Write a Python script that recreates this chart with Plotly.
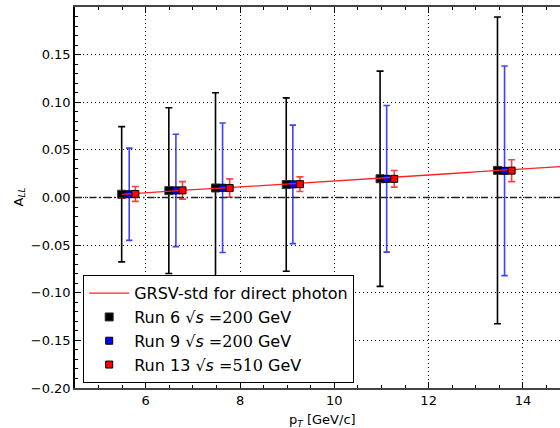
import plotly.graph_objects as go

# ---- data ----
run6_x = [5.49, 6.49, 7.48, 8.98, 10.97, 13.46]
run6_y = [0.0034, 0.0072, 0.0100, 0.0136, 0.0197, 0.0285]
run6_err = [0.071, 0.087, 0.100, 0.091, 0.113, 0.161]

run9_x = [5.65, 6.64, 7.63, 9.12, 11.11, 13.61]
run9_y = [0.0034, 0.0074, 0.0102, 0.0138, 0.0196, 0.0280]
run9_err = [0.0484, 0.059, 0.068, 0.0622, 0.077, 0.110]

run13_x = [5.78, 6.78, 7.78, 9.27, 11.27, 13.76]
run13_y = [0.0037, 0.0075, 0.0099, 0.0140, 0.0196, 0.0282]
run13_err = [0.0078, 0.0092, 0.0097, 0.0077, 0.0087, 0.0115]

grsv_x = [5.5, 6.0, 6.5, 7.0, 7.5, 8.0, 8.5, 9.0, 9.5, 10.0,
          10.5, 11.0, 11.5, 12.0, 12.5, 13.0, 13.5, 14.0, 14.5, 15.0]
grsv_y = [0.0032, 0.0050, 0.0068, 0.0082, 0.0095, 0.0110, 0.0125, 0.0142, 0.0158, 0.0175,
          0.0188, 0.0203, 0.0220, 0.0236, 0.0252, 0.0270, 0.0287, 0.0302, 0.0316, 0.0330]

x_ticks = [6, 8, 10, 12, 14]
y_ticks = [-0.20, -0.15, -0.10, -0.05, 0.00, 0.05, 0.10, 0.15]
y_tick_labels = ["−0.20", "−0.15", "−0.10", "−0.05", "0.00", "0.05", "0.10", "0.15"]

FONT = "DejaVu Sans"
serif = "<span style='font-family:DejaVu Serif'>"

fig = go.Figure()

fig.add_trace(go.Scatter(
    x=run6_x, y=run6_y, mode="markers",
    name="Run 6 √<i>s</i> " + serif + "=200</span> GeV",
    marker=dict(symbol="square", size=8, color="black", line=dict(color="#333333", width=1)),
    error_y=dict(type="data", array=run6_err, color="black", thickness=1.6, width=3.5),
    legendrank=2, legendgroup="a",
))
fig.add_trace(go.Scatter(
    x=run9_x, y=run9_y, mode="markers",
    name="Run 9 √<i>s</i> " + serif + "=200</span> GeV",
    marker=dict(symbol="square", size=7, color="#0000ff", line=dict(color="black", width=1)),
    error_y=dict(type="data", array=run9_err, color="rgba(0,0,255,0.75)", thickness=1.6, width=3.2),
    legendrank=3, legendgroup="b",
))
fig.add_trace(go.Scatter(
    x=grsv_x, y=grsv_y, mode="lines",
    name="GRSV-std for direct photon",
    line=dict(color="#ff2020", width=1.3),
    legendrank=1, legendgroup="c",
))
fig.add_trace(go.Scatter(
    x=run13_x, y=run13_y, mode="markers",
    name="Run 13 √<i>s</i> " + serif + "=510</span> GeV",
    marker=dict(symbol="square", size=7, color="#ff0000", line=dict(color="black", width=1)),
    error_y=dict(type="data", array=run13_err, color="rgba(255,0,0,0.75)", thickness=1.6, width=3.5),
    legendrank=4, legendgroup="d",
))

# zero line (dash-dot)
fig.add_shape(type="line", xref="paper", x0=0, x1=1, yref="y", y0=0, y1=0,
              line=dict(color="#222222", width=1.3, dash="7px,3px,1.5px,3px"), layer="above")

fig.update_layout(
    width=560, height=428,
    margin=dict(l=75, r=0, t=7, b=40),
    paper_bgcolor="white", plot_bgcolor="white",
    font=dict(family=FONT, size=13, color="black"),
    showlegend=True,
    legend=dict(
        x=0.0165, y=0.013, xanchor="left", yanchor="bottom",
        bgcolor="white", bordercolor="black", borderwidth=1.2,
        font=dict(family=FONT, size=16, color="black"),
        tracegroupgap=0, itemwidth=40,
    ),
    xaxis=dict(
        range=[4.5, 14.786], tickvals=x_ticks, ticktext=[str(v) for v in x_ticks],
        showgrid=True, gridcolor="black", griddash="1px,3px", gridwidth=1,
        showline=True, linecolor="#444444", linewidth=1.5, mirror="ticks",
        ticks="inside", ticklen=6, tickcolor="black", zeroline=False,
        tickfont=dict(size=13),
        minor=dict(dtick=0.5, tick0=0, ticks="inside", ticklen=3, tickcolor="black", showgrid=False),
    ),
    yaxis=dict(
        range=[-0.2, 0.2], tickvals=y_ticks, ticktext=y_tick_labels,
        showgrid=True, gridcolor="black", griddash="1px,3px", gridwidth=1,
        showline=True, linecolor="black", linewidth=1.5, mirror=False,
        ticks="inside", ticklen=6, tickcolor="black", zeroline=False,
        tickfont=dict(size=13),
        minor=dict(dtick=0.01, tick0=0, ticks="inside", ticklen=3, tickcolor="black", showgrid=False),
    ),
    annotations=[
        dict(text="A<sub><i>LL</i></sub>", xref="paper", yref="paper",
             x=(19 - 75) / 485, y=0.5, xanchor="center", yanchor="middle",
             textangle=-90, showarrow=False, font=dict(size=13)),
        dict(text="p<sub><i>T</i></sub> [GeV/c]", xref="paper", yref="paper",
             x=(322 - 75) / 485, y=(388 - 420) / 381, xanchor="center", yanchor="middle",
             showarrow=False, font=dict(size=13)),
    ],
)

fig.write_html("out.html", config={"displayModeBar": False},
               post_script="document.body.style.margin='0';document.body.style.overflow='hidden';")
